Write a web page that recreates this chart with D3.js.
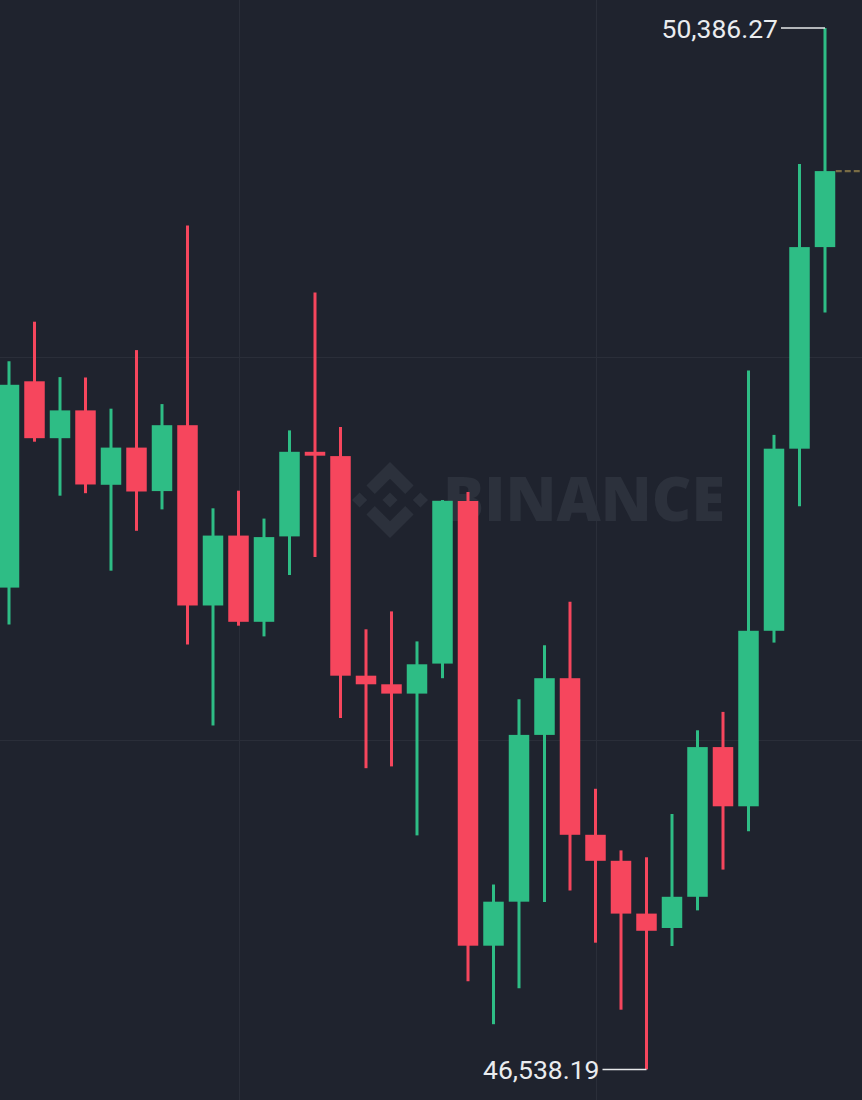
<!DOCTYPE html>
<html>
<head>
<meta charset="utf-8">
<script src="https://cdn.jsdelivr.net/npm/d3@7/dist/d3.min.js"></script>
<style>
  html, body { margin: 0; padding: 0; background: #1f232e; }
  svg { display: block; }
</style>
</head>
<body>
<svg id="chart" width="862" height="1100"></svg>
<script>
// ---- data (BTC/USDT candles) ----
const openP  = [48318.5, 49080.8, 48870.6, 48973.3, 48698.4, 48835.8, 48675.1, 48918.6, 48252.4, 48510.7, 48192.1, 48507.7, 48820.3, 48804.4, 47993.0, 47961.2, 47926.8, 48037.7, 48638.5, 46995.3, 47157.9, 47774.2, 47983.7, 47405.1, 47309.0, 47113.9, 47060.7, 47176.0, 47729.2, 47510.4, 48158.9, 48831.8, 49576.7];
const highP  = [49154.7, 49301.0, 49096.3, 49094.9, 48979.6, 49196.1, 48996.6, 49656.2, 48611.5, 48676.6, 48573.5, 48899.4, 49408.9, 48911.6, 48164.4, 48230.6, 48119.7, 48642.0, 48671.8, 47221.4, 47905.8, 48105.3, 48266.4, 47575.1, 47347.4, 47322.0, 47481.9, 47791.2, 47859.2, 49120.4, 48882.8, 49883.8, 50386.27];
const lowP   = [48182.5, 48857.6, 48658.1, 48667.3, 48381.0, 48528.4, 48607.5, 48108.6, 47809.0, 48177.7, 48138.2, 48365.1, 48431.2, 47837.0, 47651.2, 47657.8, 47402.9, 47983.7, 46863.8, 46705.2, 46838.3, 47156.8, 47198.9, 47006.4, 46758.8, 46538.19, 46994.2, 47125.8, 47276.5, 47418.0, 48115.3, 48618.9, 49335.4];
const closeP = [49067.9, 48870.6, 48973.3, 48699.5, 48835.8, 48673.6, 48918.6, 48252.4, 48510.7, 48192.1, 48505.1, 48820.3, 48805.9, 47993.0, 47961.2, 47926.8, 48035.1, 48639.3, 46995.3, 47157.9, 47774.2, 47983.7, 47405.1, 47309.0, 47113.9, 47050.4, 47176.0, 47729.2, 47510.4, 48158.9, 48831.8, 49576.7, 49857.5];
const gridPrices = [49170, 47757];
const gridCandles = [9, 23];
const watermarkText = "BINANCE";

const candles = openP.map((o, i) => ({ i, o, h: highP[i], l: lowP[i], c: closeP[i] }));

const W = 862, H = 1100;
const GREEN = "#2ebd85", RED = "#f6465d";

const svg = d3.select("#chart");
svg.append("rect").attr("width", W).attr("height", H).attr("fill", "#1f232e");

const maxHigh = d3.max(highP), minLow = d3.min(lowP);
const y = d3.scaleLinear().domain([minLow, maxHigh]).range([1069.4, 28]);
const x = d3.scaleLinear().domain([0, candles.length - 1]).range([9, 825]);

// gridlines
const g = svg.append("g").attr("stroke", "#2a2e39").attr("stroke-width", 1);
g.selectAll("line.h").data(gridPrices).join("line").attr("class", "h")
  .attr("x1", 0).attr("x2", W)
  .attr("y1", d => Math.round(y(d)) + 0.5).attr("y2", d => Math.round(y(d)) + 0.5);
g.selectAll("line.v").data(gridCandles).join("line").attr("class", "v")
  .attr("y1", 0).attr("y2", H)
  .attr("x1", d => Math.round(x(d)) + 0.5).attr("x2", d => Math.round(x(d)) + 0.5);

// watermark
const wm = svg.append("g").attr("fill", "#2c313c");
const logo = wm.append("g").attr("transform", "translate(390,500) scale(38)");
const dia = (cx, cy, r) => `M${cx},${cy - r}L${cx + r},${cy}L${cx},${cy + r}L${cx - r},${cy}Z`;
logo.append("path").attr("d", dia(0, 0, 0.2));
logo.append("path").attr("d", dia(-0.8, 0, 0.2));
logo.append("path").attr("d", dia(0.8, 0, 0.2));
logo.append("path").attr("d", "M0,-1L0.62,-0.38L0.4,-0.16L0,-0.56L-0.4,-0.16L-0.62,-0.38Z");
logo.append("path").attr("d", "M0,1L0.62,0.38L0.4,0.16L0,0.56L-0.4,0.16L-0.62,0.38Z");
wm.append("text").text(watermarkText)
  .attr("x", 443).attr("y", 521)
  .attr("font-family", "Open Sans, DejaVu Sans, sans-serif")
  .attr("font-weight", 800).attr("font-size", 62)
  .attr("textLength", 282).attr("lengthAdjust", "spacingAndGlyphs");

// candles
const bodyW = 20.5;
const cg = svg.append("g");
const cs = cg.selectAll("g.c").data(candles).join("g").attr("class", "c");
cs.append("line")
  .attr("x1", d => x(d.i)).attr("x2", d => x(d.i))
  .attr("y1", d => y(d.h)).attr("y2", d => y(d.l))
  .attr("stroke", d => d.c >= d.o ? GREEN : RED).attr("stroke-width", 3);
cs.append("rect")
  .attr("x", d => x(d.i) - bodyW / 2).attr("width", bodyW)
  .attr("y", d => y(Math.max(d.o, d.c)))
  .attr("height", d => Math.max(2, Math.abs(y(d.o) - y(d.c))))
  .attr("fill", d => d.c >= d.o ? GREEN : RED);

// current price dashed line
const last = candles[candles.length - 1];
svg.append("line")
  .attr("x1", x(last.i) + bodyW / 2 + 0.5).attr("x2", W)
  .attr("y1", y(last.c)).attr("y2", y(last.c))
  .attr("stroke", "#7a6c45").attr("stroke-width", 2.4).attr("stroke-dasharray", "6,3");

// max / min labels
const iMax = d3.maxIndex(highP), iMin = d3.minIndex(lowP);
const fmt = d3.format(",.2f");
const lab = svg.append("g");
function label(i, price) {
  const px = x(i), py = y(price);
  lab.append("line").attr("x1", px - 44).attr("x2", px).attr("y1", py).attr("y2", py)
    .attr("stroke", "#e6e8ea").attr("stroke-width", 1.5);
  lab.append("text").text(fmt(price))
    .attr("x", px - 47).attr("y", py + 9.5)
    .attr("text-anchor", "end")
    .attr("font-family", "Roboto, sans-serif").attr("font-size", 26.5)
    .attr("fill", "#eaecef");
}
label(iMax, maxHigh);
label(iMin, minLow);
</script>
</body>
</html>
